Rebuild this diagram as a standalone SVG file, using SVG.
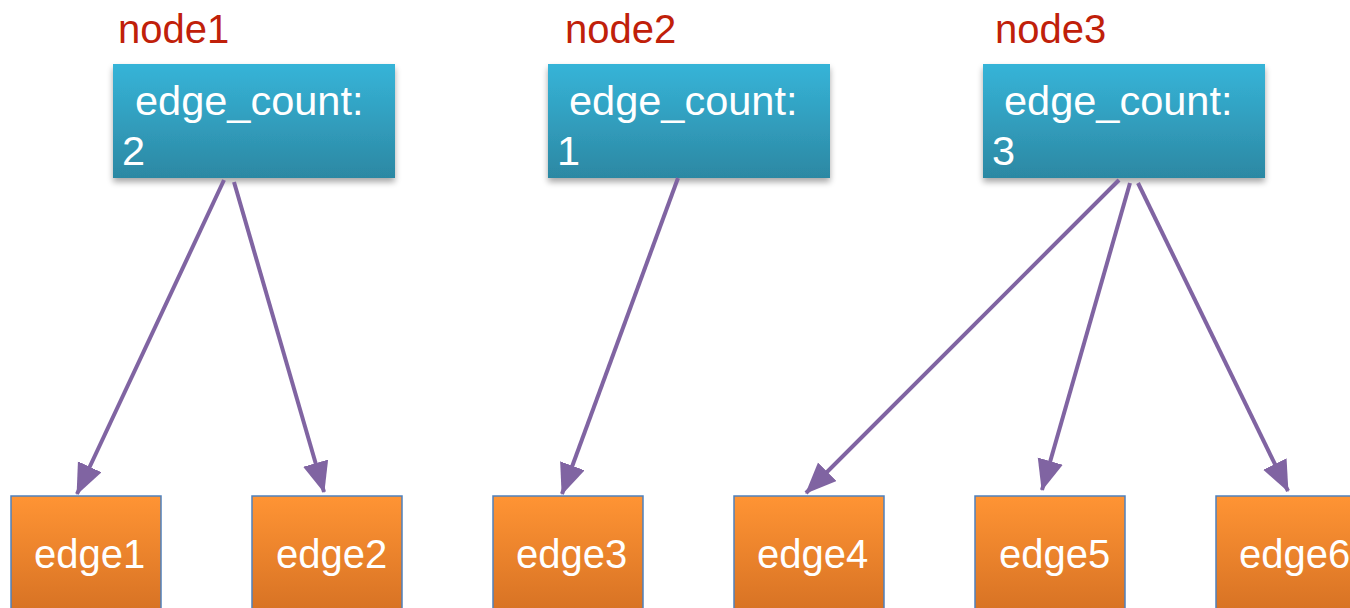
<svg xmlns="http://www.w3.org/2000/svg" width="1350" height="608" viewBox="0 0 1350 608">
<style>
.lbl{font-family:"Liberation Sans",Arial,sans-serif;font-size:40px;fill:#C0200A}
.nt{font-family:"Liberation Sans",Arial,sans-serif;font-size:41.5px;fill:#fff}
.et{font-family:"Liberation Sans",Arial,sans-serif;font-size:40px;fill:#fff}
.nb{fill:url(#gb);filter:url(#sh)}
.eb{fill:url(#go);stroke:#4F81BD;stroke-width:1.5}
.cn line{stroke:#8064A2;stroke-width:4;fill:none;marker-end:url(#ah)}
</style>
<defs>
<linearGradient id="gb" x1="0" y1="0" x2="0" y2="1">
<stop offset="0" stop-color="#36B4D8"/>
<stop offset="1" stop-color="#2C88A3"/>
</linearGradient>
<linearGradient id="go" x1="0" y1="0" x2="0" y2="1">
<stop offset="0" stop-color="#FF9434"/>
<stop offset="1" stop-color="#D26E22"/>
</linearGradient>
<filter id="sh" x="-10%" y="-10%" width="120%" height="140%">
<feGaussianBlur in="SourceAlpha" stdDeviation="3"/>
<feOffset dx="0" dy="4" result="b"/>
<feComponentTransfer><feFuncA type="linear" slope="0.35"/></feComponentTransfer>
<feMerge><feMergeNode/><feMergeNode in="SourceGraphic"/></feMerge>
</filter>
<marker id="ah" markerUnits="userSpaceOnUse" markerWidth="34" markerHeight="28" refX="30" refY="13" orient="auto">
<path d="M0,0 L31,13 L0,26 Z" fill="#8064A2"/>
</marker>
</defs>
<g id="node1">
<text class="lbl" x="118" y="43">node1</text>
<rect class="nb" x="113" y="64" width="282" height="114"/>
<text class="nt" x="135" y="115">edge_count:</text>
<text class="nt" x="122" y="165">2</text>
</g>
<g id="node2">
<text class="lbl" x="565" y="43">node2</text>
<rect class="nb" x="548" y="64" width="282" height="114"/>
<text class="nt" x="569" y="115">edge_count:</text>
<text class="nt" x="557" y="165">1</text>
</g>
<g id="node3">
<text class="lbl" x="995" y="43">node3</text>
<rect class="nb" x="983" y="64" width="282" height="114"/>
<text class="nt" x="1004" y="115">edge_count:</text>
<text class="nt" x="992" y="165">3</text>
</g>
<g id="edge1"><rect class="eb" x="11" y="496" width="150" height="130"/><text class="et" x="34" y="568">edge1</text></g>
<g id="edge2"><rect class="eb" x="252" y="496" width="150" height="130"/><text class="et" x="276" y="568">edge2</text></g>
<g id="edge3"><rect class="eb" x="493" y="496" width="150" height="130"/><text class="et" x="516" y="568">edge3</text></g>
<g id="edge4"><rect class="eb" x="734" y="496" width="150" height="130"/><text class="et" x="757" y="568">edge4</text></g>
<g id="edge5"><rect class="eb" x="975" y="496" width="150" height="130"/><text class="et" x="999" y="568">edge5</text></g>
<g id="edge6"><rect class="eb" x="1216" y="496" width="150" height="130"/><text class="et" x="1239" y="568">edge6</text></g>
<g id="connectors" class="cn">
<line x1="224" y1="180" x2="77" y2="494"/>
<line x1="234" y1="182" x2="324" y2="492"/>
<line x1="678" y1="178" x2="562" y2="494"/>
<line x1="1119" y1="180" x2="806" y2="493"/>
<line x1="1130" y1="183" x2="1042" y2="490"/>
<line x1="1138" y1="183" x2="1288" y2="491"/>
</g>
</svg>
